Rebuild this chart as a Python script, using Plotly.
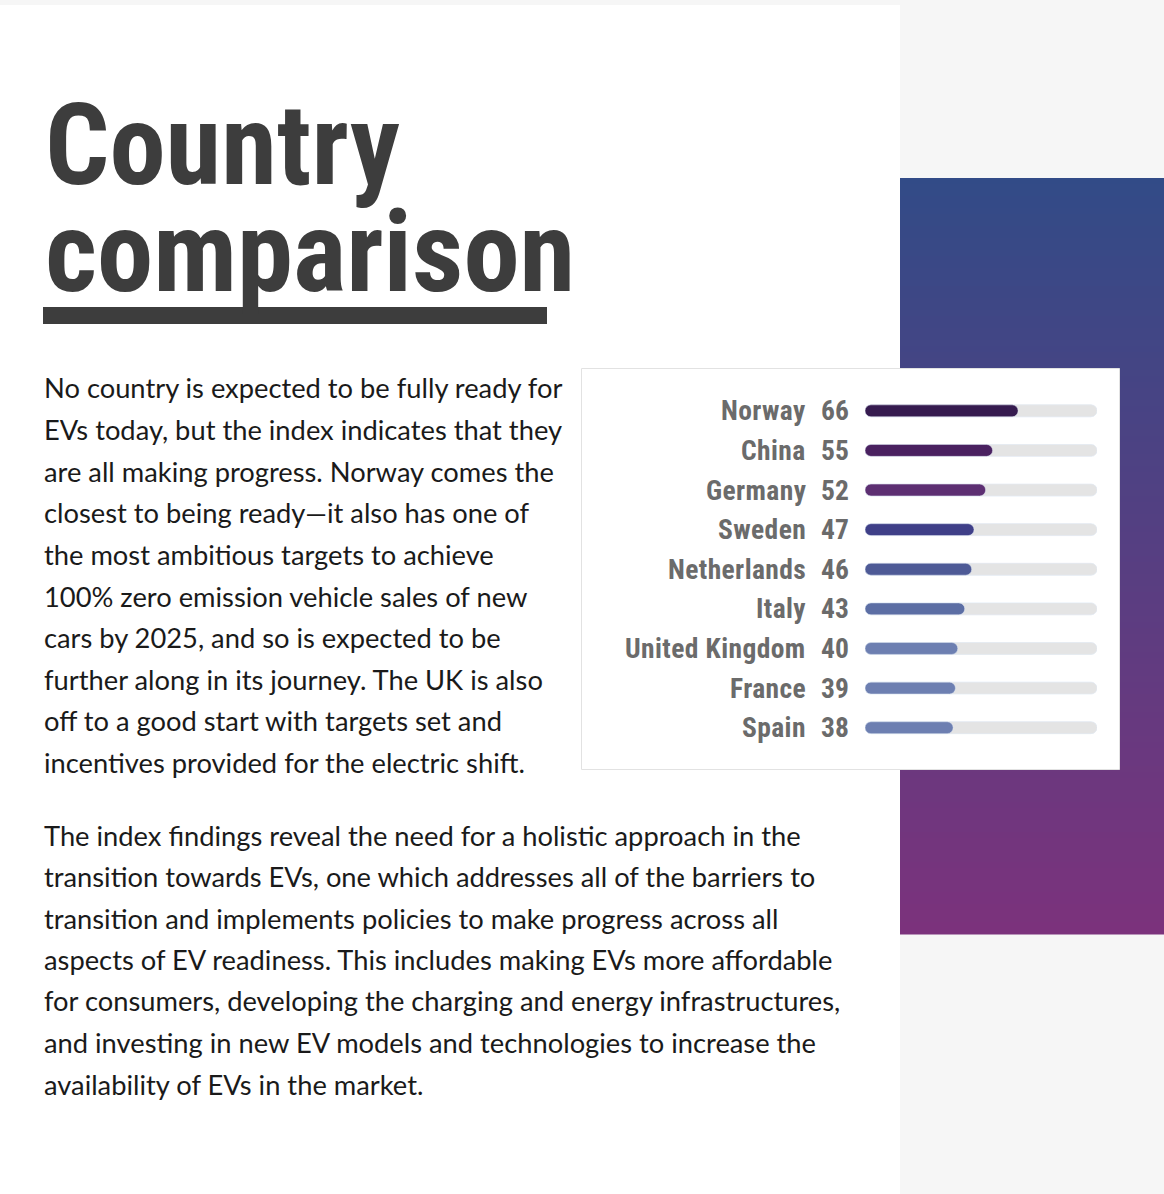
import plotly.graph_objects as go

W, H = 1164, 1194

# EV readiness index by country
countries = ["Norway", "China", "Germany", "Sweden", "Netherlands",
             "Italy", "United Kingdom", "France", "Spain"]
scores = [66, 55, 52, 47, 46, 43, 40, 39, 38]
bar_colors = ["#361b4f", "#4a2160", "#5d2f72", "#3f3f88", "#4e5a96",
              "#5c6ea4", "#6d7fb1", "#6d7fb1", "#6d7fb1"]
scale_max = 100

title_lines = ["Country", "comparison"]

para1 = [
    "No country is expected to be fully ready for",
    "EVs today, but the index indicates that they",
    "are all making progress. Norway comes the",
    "closest to being ready\u2014it also has one of",
    "the most ambitious targets to achieve",
    "100% zero emission vehicle sales of new",
    "cars by 2025, and so is expected to be",
    "further along in its journey. The UK is also",
    "off to a good start with targets set and",
    "incentives provided for the electric shift.",
]
para2 = [
    "The index findings reveal the need for a holistic approach in the",
    "transition towards EVs, one which addresses all of the barriers to",
    "transition and implements policies to make progress across all",
    "aspects of EV readiness. This includes making EVs more affordable",
    "for consumers, developing the charging and energy infrastructures,",
    "and investing in new EV models and technologies to increase the",
    "availability of EVs in the market.",
]


def px(x):
    return x / W


def py(y):
    return 1 - y / H


def mix(c1, c2, t):
    a = [int(c1[i:i + 2], 16) for i in (1, 3, 5)]
    b = [int(c2[i:i + 2], 16) for i in (1, 3, 5)]
    return "rgb(%d,%d,%d)" % tuple(round(a[k] + (b[k] - a[k]) * t) for k in range(3))


narrow = "Roboto Condensed, Open Sans, sans-serif"
body_font = "Lato, Noto Sans, sans-serif"

shapes = []
# grey side column and top strip
shapes.append(dict(type="rect", xref="paper", yref="paper", x0=px(900), x1=1,
                   y0=0, y1=1, fillcolor="#f6f6f6", line_width=0, layer="below"))
shapes.append(dict(type="rect", xref="paper", yref="paper", x0=0, x1=1,
                   y0=py(5), y1=1, fillcolor="#f6f6f6", line_width=0, layer="below"))
# gradient block (blue -> purple), built from thin strips
g_top, g_bot, step = 178, 934, 6
y = g_top
while y < g_bot:
    y2 = min(y + step, g_bot)
    t = (y - g_top) / (g_bot - g_top)
    shapes.append(dict(type="rect", xref="paper", yref="paper",
                       x0=px(900), x1=1, y0=py(y2 + 0.5), y1=py(y),
                       fillcolor=mix("#324b87", "#7c327c", t),
                       line_width=0, layer="below"))
    y = y2
# white card behind the chart
shapes.append(dict(type="rect", xref="paper", yref="paper",
                   x0=px(581.5), x1=px(1119.5), y0=py(769.5), y1=py(368.5),
                   fillcolor="white", line=dict(color="#e2e2e2", width=1),
                   layer="below"))
# title underline
shapes.append(dict(type="rect", xref="paper", yref="paper",
                   x0=px(43), x1=px(547), y0=py(324), y1=py(307),
                   fillcolor="#3d3d3d", line_width=0, layer="below"))

fig = go.Figure()

# grey track, rounded at both ends
fig.add_trace(go.Bar(y=countries, x=[scale_max] * len(countries), base=0,
                     orientation="h", width=0.3, marker=dict(color="#e4e4e4", cornerradius=6),
                     hoverinfo="skip"))
fig.add_trace(go.Bar(y=countries, x=[-scale_max] * len(countries), base=scale_max,
                     orientation="h", width=0.3, marker=dict(color="#e4e4e4", cornerradius=6),
                     hoverinfo="skip"))
# score bars, rounded on the left end only
fig.add_trace(go.Bar(y=countries, x=[-s for s in scores], base=scores,
                     orientation="h", width=0.3,
                     marker=dict(color=bar_colors, cornerradius=6),
                     hovertext=[f"{c}: {s}" for c, s in zip(countries, scores)],
                     hoverinfo="text"))

label_font = dict(family=narrow, size=27.5, color="#6b6b6b", weight="bold")
annotations = []
for c, s in zip(countries, scores):
    annotations.append(dict(xref="paper", yref="y", x=px(808), y=c,
                            text=f'<span style="letter-spacing:0.4px">{c}</span>',
                            xanchor="right", yanchor="middle", showarrow=False,
                            font=label_font))
    annotations.append(dict(xref="paper", yref="y", x=px(851), y=c, text=str(s),
                            xanchor="right", yanchor="middle", showarrow=False,
                            font=label_font))

# title
for i, line in enumerate(title_lines):
    annotations.append(dict(xref="paper", yref="paper", x=px(43), y=py(145 + 107 * i),
                            text=line, xanchor="left", yanchor="middle", showarrow=False,
                            font=dict(family=narrow, size=113, color="#3d3d3d", weight="bold")))

# body paragraphs
body = dict(family=body_font, size=27.3, color="#1a1a1a")
for i, line in enumerate(para1):
    annotations.append(dict(xref="paper", yref="paper", x=px(42), y=py(388 + 41.6 * i),
                            text=line, xanchor="left", yanchor="middle", showarrow=False,
                            font=body))
for i, line in enumerate(para2):
    annotations.append(dict(xref="paper", yref="paper", x=px(42), y=py(835 + 41.5 * i),
                            text=line, xanchor="left", yanchor="middle", showarrow=False,
                            font=body))

fig.update_layout(
    width=W, height=H,
    margin=dict(l=0, r=0, t=0, b=0),
    paper_bgcolor="white", plot_bgcolor="rgba(0,0,0,0)",
    barmode="overlay", showlegend=False,
    xaxis=dict(domain=[px(865), px(1097)], range=[0, scale_max], visible=False, fixedrange=True),
    yaxis=dict(domain=[py(747.5), py(391)], autorange="reversed", visible=False,
               fixedrange=True),
    shapes=shapes, annotations=annotations,
)

fig.write_html("out.html", config=dict(displayModeBar=False),
               post_script="document.body.style.margin='0';")
